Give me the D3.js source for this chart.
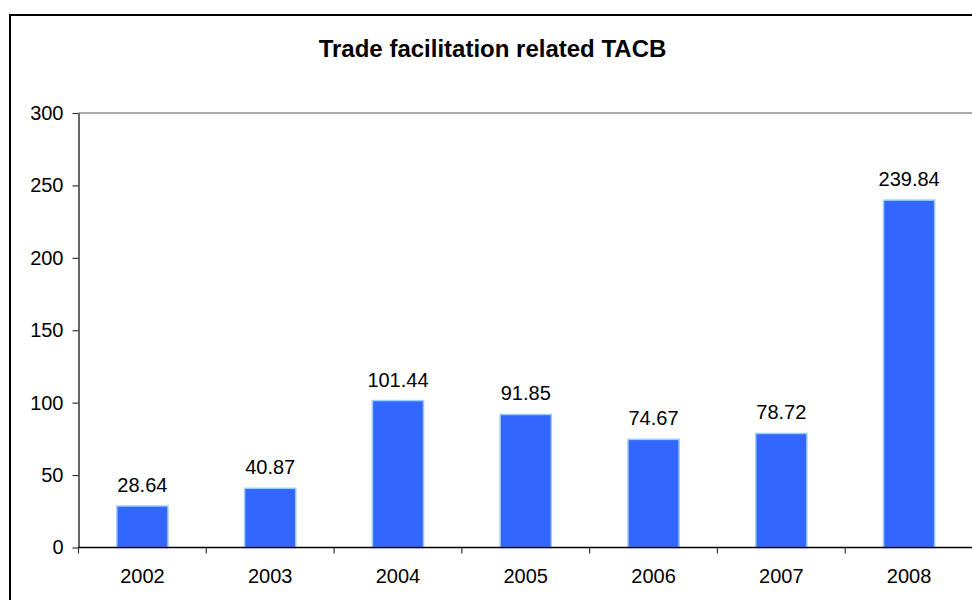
<!DOCTYPE html>
<html>
<head>
<meta charset="utf-8">
<script src="https://cdn.jsdelivr.net/npm/d3@7"></script>
<style>
  body { margin: 0; background: #fff; }
  svg { display: block; font-family: Arial, 'Liberation Sans', sans-serif; }
</style>
</head>
<body>
<div id="chart"></div>
<script>
var years = ['2002', '2003', '2004', '2005', '2006', '2007', '2008']
var values = [28.64, 40.87, 101.44, 91.85, 74.67, 78.72, 239.84]
var yTicks = [0, 50, 100, 150, 200, 250, 300]

var width = 972
var height = 600
var margin = { top: 113, left: 78.5, bottom: 52.5 }
var plotRight = 973

var svg = d3.select('#chart')
  .append('svg')
  .attr('width', width)
  .attr('height', height)

// chart frame, runs off the right and bottom edges
svg.append('rect')
  .attr('x', 10)
  .attr('y', 15)
  .attr('width', 1000)
  .attr('height', 700)
  .attr('fill', 'none')
  .attr('stroke', '#000')
  .attr('stroke-width', 2)

svg.append('text')
  .attr('x', 492.5)
  .attr('y', 57)
  .attr('text-anchor', 'middle')
  .attr('font-size', 24)
  .attr('font-weight', 'bold')
  .text('Trade facilitation related TACB')

var x = d3.scaleBand()
  .domain(years)
  .range([margin.left, plotRight])
  .paddingInner(0.6)
  .paddingOuter(0.3)

var y = d3.scaleLinear()
  .domain([0, 300])
  .range([height - margin.bottom, margin.top])

// plot area top border
svg.append('line')
  .attr('x1', margin.left)
  .attr('x2', plotRight)
  .attr('y1', y(300))
  .attr('y2', y(300))
  .attr('stroke', '#8c8c8c')
  .attr('stroke-width', 1.5)

// y axis
var yAxis = svg.append('g')
  .attr('transform', 'translate(' + margin.left + ',0)')
  .call(d3.axisLeft(y).tickValues(yTicks).tickSize(6).tickPadding(9).tickSizeOuter(0))
yAxis.select('.domain').attr('stroke', '#333').attr('stroke-width', 1.5)
yAxis.selectAll('.tick line').attr('stroke', '#333').attr('stroke-width', 1.2)
yAxis.selectAll('text').attr('font-size', 20).attr('font-family', 'Arial, Liberation Sans, sans-serif').attr('fill', '#000')

// bars
svg.selectAll('rect.bar')
  .data(values)
  .enter()
  .append('rect')
  .attr('class', 'bar')
  .attr('x', function(d, i) { return x(years[i]) })
  .attr('y', function(d) { return y(d) })
  .attr('width', x.bandwidth())
  .attr('height', function(d) { return y(0) - y(d) })
  .attr('fill', '#3366ff')
  .attr('stroke', '#99ccff')
  .attr('stroke-width', 1.5)

// value labels
svg.selectAll('text.val')
  .data(values)
  .enter()
  .append('text')
  .attr('class', 'val')
  .attr('x', function(d, i) { return x(years[i]) + x.bandwidth() / 2 })
  .attr('y', function(d) { return y(d) - 14 })
  .attr('text-anchor', 'middle')
  .attr('font-size', 20)
  .text(function(d) { return d.toFixed(2) })

// x axis, ticks sit between categories
var xAxisG = svg.append('g')
xAxisG.append('line')
  .attr('x1', margin.left)
  .attr('x2', plotRight)
  .attr('y1', y(0))
  .attr('y2', y(0))
  .attr('stroke', '#000')
  .attr('stroke-width', 1.5)
xAxisG.selectAll('line.tk')
  .data(years)
  .enter()
  .append('line')
  .attr('class', 'tk')
  .attr('x1', function(d) { return x(d) - x.bandwidth() * 0.75 })
  .attr('x2', function(d) { return x(d) - x.bandwidth() * 0.75 })
  .attr('y1', y(0))
  .attr('y2', y(0) + 6)
  .attr('stroke', '#333')
  .attr('stroke-width', 1.2)
xAxisG.selectAll('text')
  .data(years)
  .enter()
  .append('text')
  .attr('x', function(d) { return x(d) + x.bandwidth() / 2 })
  .attr('y', 583)
  .attr('text-anchor', 'middle')
  .attr('font-size', 20)
  .text(function(d) { return d })
</script>
</body>
</html>
